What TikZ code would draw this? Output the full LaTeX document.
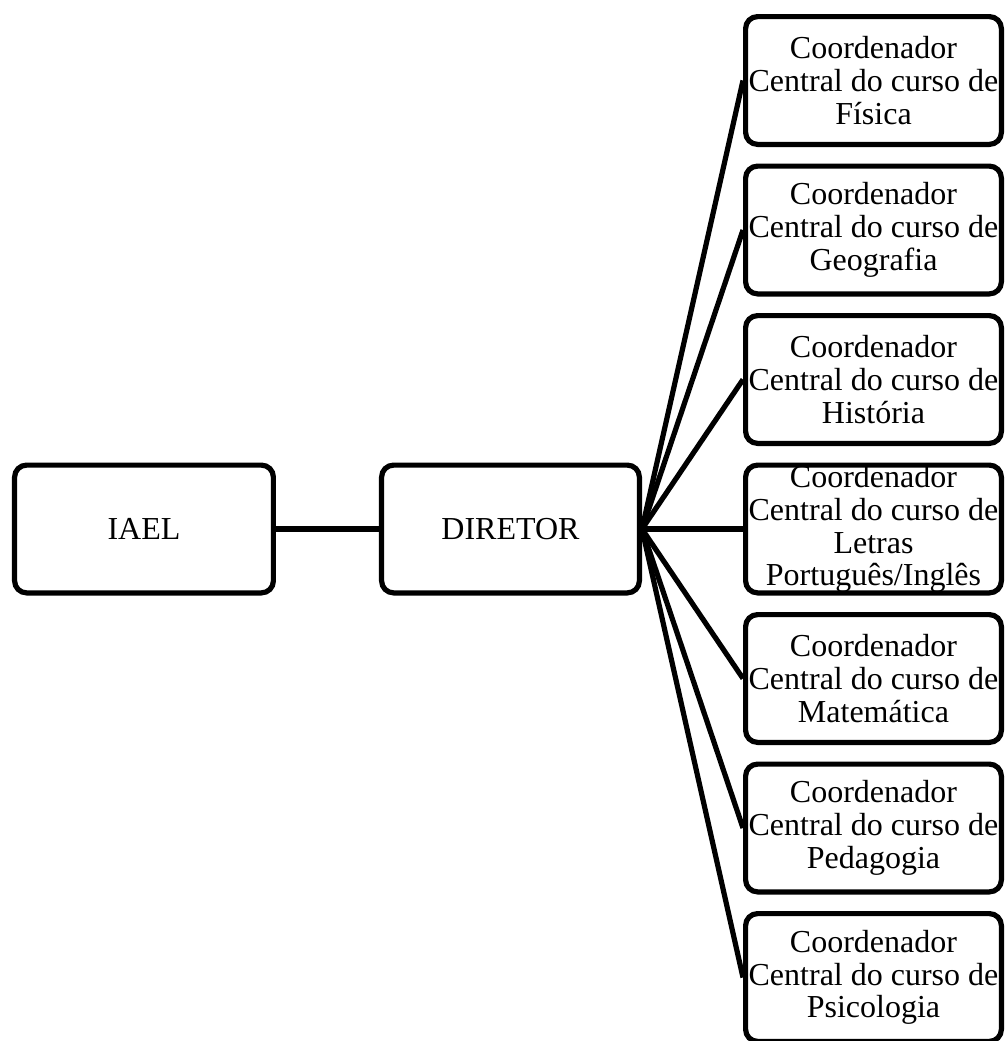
\documentclass[tikz,border=0pt]{standalone}
\usepackage{fontspec}
\setmainfont{Liberation Serif}
\usetikzlibrary{positioning}
\begin{document}
\begin{tikzpicture}[line width=2.6pt, node distance=8.25pt,
  box/.style={draw, rounded corners=6pt, minimum width=127.9pt, minimum height=63.9pt, inner sep=0pt, align=center, font={\fontsize{16}{16.4}\selectfont}}]
\useasboundingbox (-72pt,-256pt) rectangle (430.5pt,264.5pt);
\node (IAEL) [box, minimum width=129.4pt] {IAEL};
\node (DIR) [box, minimum width=128.9pt, right=51.5pt of IAEL] {DIRETOR};
\draw (IAEL) -- (DIR);
\node (LET) [box, right=50.5pt of DIR] {Coordenador\\Central do curso de\\Letras\\Português/Inglês};
\node (HIS) [box, above=of LET] {Coordenador\\Central do curso de\\História};
\node (GEO) [box, above=of HIS] {Coordenador\\Central do curso de\\Geografia};
\node (FIS) [box, above=of GEO] {Coordenador\\Central do curso de\\Física};
\node (MAT) [box, below=of LET] {Coordenador\\Central do curso de\\Matemática};
\node (PED) [box, below=of MAT] {Coordenador\\Central do curso de\\Pedagogia};
\node (PSI) [box, below=of PED] {Coordenador\\Central do curso de\\Psicologia};
\draw (DIR.east) -- (FIS.west);
\draw (DIR.east) -- (GEO.west);
\draw (DIR.east) -- (HIS.west);
\draw (DIR.east) -- (LET.west);
\draw (DIR.east) -- (MAT.west);
\draw (DIR.east) -- (PED.west);
\draw (DIR.east) -- (PSI.west);
\end{tikzpicture}
\end{document}
